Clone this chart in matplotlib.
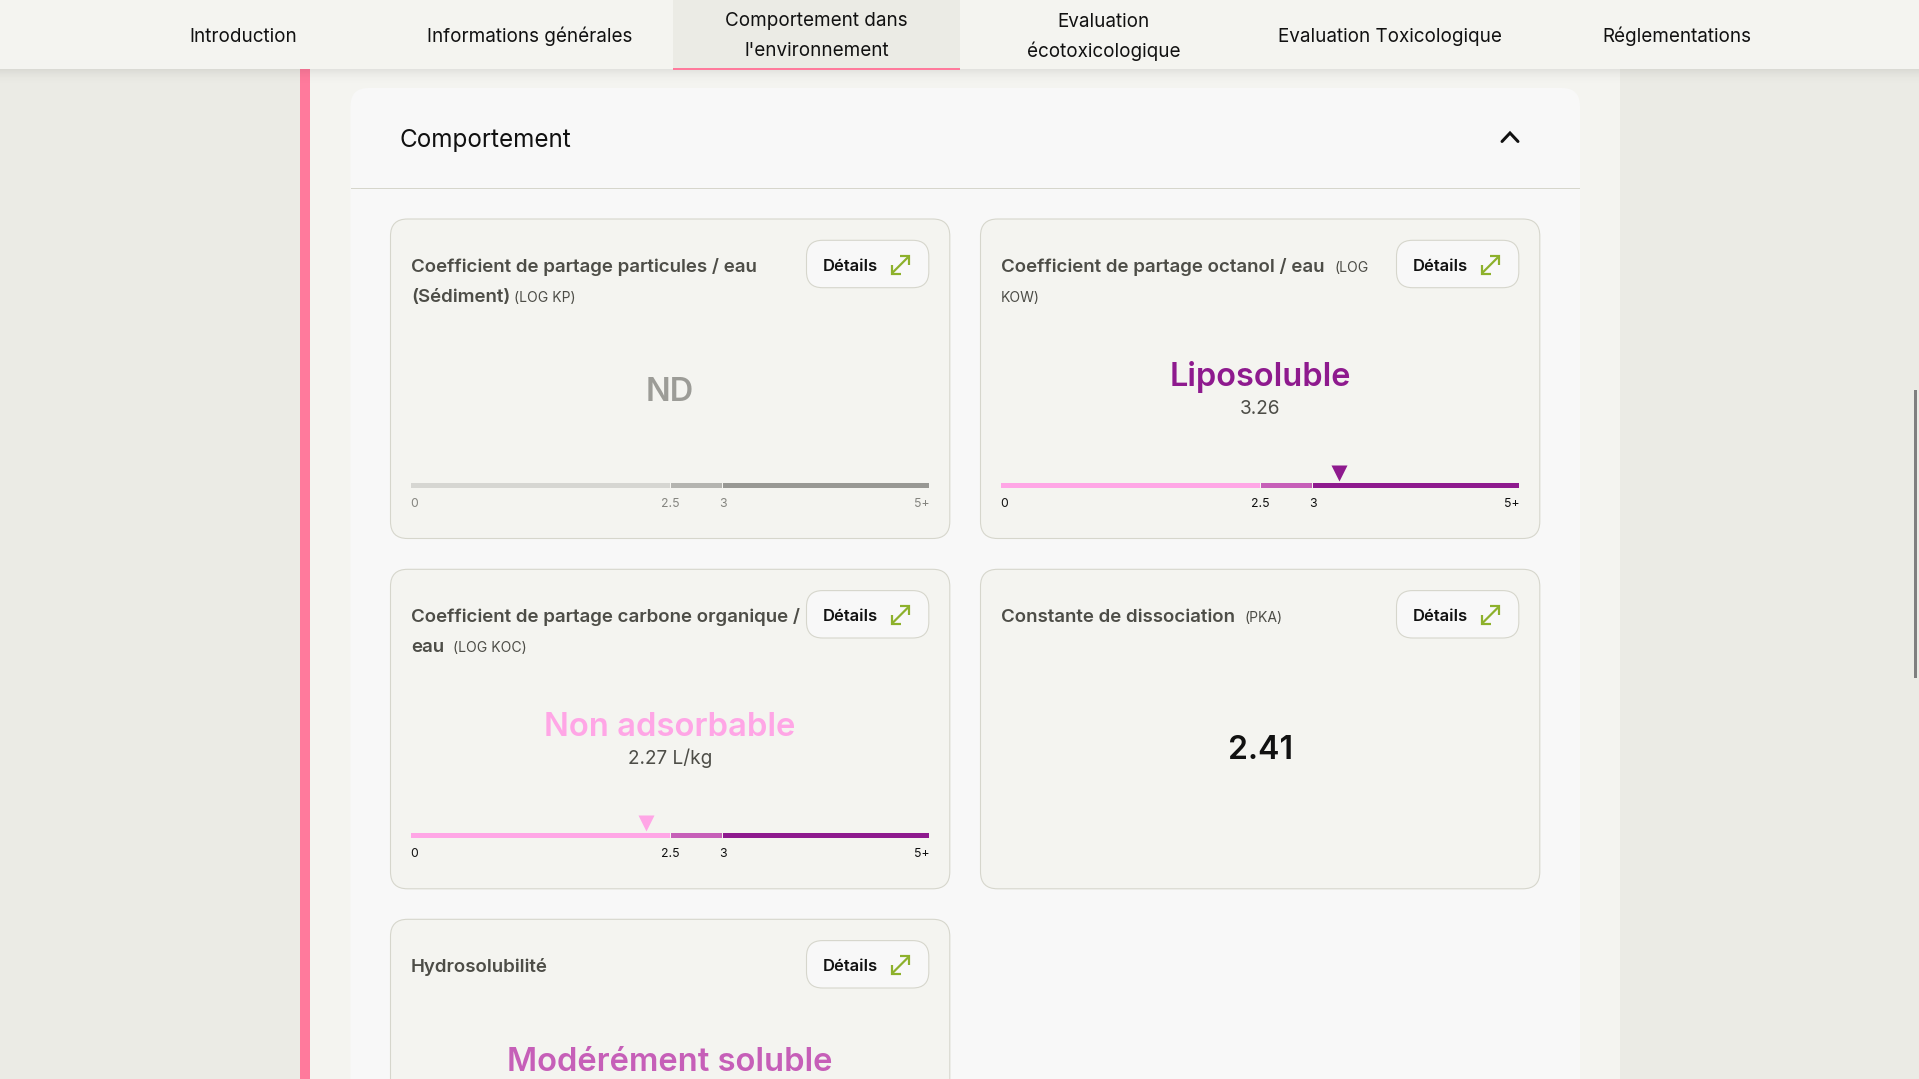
import matplotlib
matplotlib.use("Agg")
import matplotlib.pyplot as plt
from matplotlib.patches import FancyBboxPatch, Rectangle

W, H = 1919, 1079
FONT = ["Inter", "DejaVu Sans"]
plt.rcParams["font.family"] = FONT

# ---- data ----
nav_labels = ["Introduction", "Informations générales", "Comportement dans\nl'environnement",
              "Evaluation\nécotoxicologique", "Evaluation Toxicologique", "Réglementations"]
section_title = "Comportement"
button_label = "Détails"
card_titles = [["Coefficient de partage particules / eau", "(Sédiment)"],
               ["Coefficient de partage octanol / eau"],
               ["Coefficient de partage carbone organique /", "eau"],
               ["Constante de dissociation"],
               ["Hydrosolubilité"]]
card_units = ["(LOG KP)", "(LOG\nKOW)", "(LOG KOC)", "(PKA)", ""]
card_verdicts = ["ND", "Liposoluble", "Non adsorbable", "2.41", "Modérément soluble"]
card_subtexts = ["", "3.26", "2.27 L/kg", "", ""]
card_markers = [None, 3.26, 2.27, None, None]
band_edges = [0, 2.5, 3, 5]
band_ticks = ["0", "2.5", "3", "5+"]

C_PAGE = "#EBEBE5"; C_CONTENT = "#F4F4F0"; C_PANEL = "#F8F8F8"; C_BORDER = "#D6D6CC"
C_PINK = "#FF7A9C"; C_TEXT = "#111111"; C_TITLE = "#4D4D47"; C_GREEN = "#8DB12B"
BAND_ON = ["#FFA6E6", "#C65FB8", "#8E1A8E"]
BAND_OFF = ["#D6D6D2", "#B4B4B0", "#989894"]
VERDICT_COL = ["#9C9C97", "#8E1A8E", "#FFA6E6", "#111111", "#C65FB8"]

fig = plt.figure(figsize=(W / 100, H / 100), dpi=100, facecolor=C_PAGE)
ax = fig.add_axes([0, 0, 1, 1])
ax.set_xlim(0, W); ax.set_ylim(H, 0); ax.axis("off")


def fs(px):
    return px * 0.72


def rect(x0, y0, x1, y1, c, z=1, a=1.0):
    ax.add_patch(Rectangle((x0, y0), x1 - x0, y1 - y0, fc=c, ec="none", zorder=z, alpha=a))


def rrect(x0, y0, x1, y1, r, fc, ec=C_BORDER, lw=1.1, z=2):
    ax.add_patch(FancyBboxPatch((x0, y0), x1 - x0, y1 - y0, boxstyle=f"round,pad=0,rounding_size={r}",
                                fc=fc, ec=ec, lw=lw * 0.72, zorder=z))


def txt(x, y, s, px, c=C_TEXT, ha="left", w="normal", z=6):
    ax.text(x, y, s, fontsize=fs(px), color=c, ha=ha, va="baseline", fontweight=w, zorder=z)


# page bands
rect(310, 0, 1620, H, C_CONTENT)
rect(300, 69, 310, H, C_PINK, z=2)
# panel
rrect(350.5, 88, 1580, H + 60, 18, C_PANEL, ec="none", lw=0)
rect(350.5, 188, 1580, 189.3, C_BORDER, z=3)
txt(399.5, 146.7, section_title, 24.2)
ax.plot([1502, 1510, 1518], [141.5, 133, 141.5], color="#111111", lw=3 * 0.72, solid_capstyle="round",
        solid_joinstyle="miter", zorder=5)

# header shadow
for i in range(16):
    rect(0, 69 + i, W, 70 + i, "#000000", z=8, a=0.07 * (1 - i / 16) ** 2)
# header
rect(0, 0, W, 69, C_CONTENT, z=9)
rect(673, 0, 960, 68, C_PAGE, z=9)
rect(673, 68, 960, 70, C_PINK, z=10)
nav_x = [243, 530, 816.5, 1103.5, 1390, 1677]
nav_base = [[42.3], [42.3], [25.6, 56], [26.8, 57], [42.3], [42.3]]
for label, x, bases in zip(nav_labels, nav_x, nav_base):
    for line, b in zip(label.split("\n"), bases):
        txt(x, b, line, 18.85, ha="center", z=11)


def scale_bar(x0, y_top, colors, tick_col, marker):
    """Axis in data units 0..5; pixels only place the axes on the page."""
    bar_w = 518.0
    y_pad_top, total = 20.0, 48.0
    a = fig.add_axes([x0 / W, 1 - (y_top - y_pad_top + total) / H, bar_w / W, total / H])
    a.set_xlim(band_edges[0], band_edges[-1]); a.set_ylim(total, 0); a.axis("off")
    a.patch.set_alpha(0)
    a.set_zorder(5)
    for lo, hi, c in zip(band_edges[:-1], band_edges[1:], colors):
        a.barh(y_pad_top + 2.5, hi - lo, left=lo, height=5, color=c, edgecolor="none")
    for e in band_edges[1:-1]:
        a.axvline(e, ymin=1 - (y_pad_top + 5) / total, ymax=1 - y_pad_top / total, color=C_CONTENT, lw=1.0 * 0.72)
    has = ["left", "center", "center", "right"]
    nudges = [-1.0, 0.3, 1.2, 0.8]
    for v, t, h, dx in zip(band_edges, band_ticks, has, nudges):
        a.annotate(t, (v, y_pad_top + 23.7), xytext=(dx * 0.72, 0), textcoords="offset points",
                   fontsize=fs(12.3), color=tick_col, ha=h, va="baseline", annotation_clip=False)
    if marker is not None:
        idx = sum(marker >= e for e in band_edges[1:-1])
        a.plot([marker], [y_pad_top - 10], marker="v", ms=11, mfc=colors[idx], mec="none", ls="none", clip_on=False)


def arrow_icon(x0, y0):
    x1, y1 = x0 + 17.5, y0 + 17.5
    kw = dict(color=C_GREEN, lw=2.2 * 0.72, solid_capstyle="butt", solid_joinstyle="miter", zorder=6)
    ax.plot([x0, x1], [y1, y0], **kw)
    ax.plot([x0, x0, x0 + 9], [y1 - 9, y1, y1], **kw)
    ax.plot([x1 - 9, x1, x1], [y0, y0, y0 + 9], **kw)


card_x = [390.5, 980.5]
card_y = [219, 569.3, 919.3]
unit_x = [514.5, 1334, 453, 1244, 0]
verdict_base = [181.7, 167.3, 166.6, 189.7, 151.4]
verdict_size = [32.5, 32.5, 32.8, 32, 32.7]
for i in range(5):
    col, row = i % 2, i // 2
    x, y = card_x[col], card_y[row]
    rrect(x, y, x + 559.3, y + 319.5, 17, C_CONTENT)
    left = x + 20.5
    # button
    rrect(x + 416, y + 21.3, x + 538.3, y + 68.7, 16, C_PANEL)
    txt(x + 432.5, y + 52, button_label, 16.6, w="semibold")
    arrow_icon(x + 501.2, y + 37)
    # title
    for k, line in enumerate(card_titles[i]):
        txt(left, y + 52.7 + 30 * k, line, 18.72, c=C_TITLE, w="semibold")
    units = card_units[i]
    if units:
        parts = units.split("\n")
        ubase = y + 52.9 + 30 * (len(card_titles[i]) - 1)
        txt(unit_x[i], ubase, parts[0], 14, c=C_TITLE)
        if len(parts) > 1:
            txt(left, y + 83.3, parts[1], 14, c=C_TITLE)
    # verdict
    cx = x + 279.6
    txt(cx, y + verdict_base[i], card_verdicts[i], verdict_size[i], c=VERDICT_COL[i], ha="center", w="semibold")
    if card_subtexts[i]:
        txt(cx, y + 195, card_subtexts[i], 19, c=C_TITLE, ha="center")
    # scale
    if i in (0, 1, 2):
        scale_bar(left, y + 264, BAND_OFF if i == 0 else BAND_ON, "#858580" if i == 0 else C_TEXT, card_markers[i])

# scrollbar
rect(1914, 390, 1916.5, 678, "#7F7F7F", z=12)

fig.savefig("out.png", dpi=100, facecolor=fig.get_facecolor())
